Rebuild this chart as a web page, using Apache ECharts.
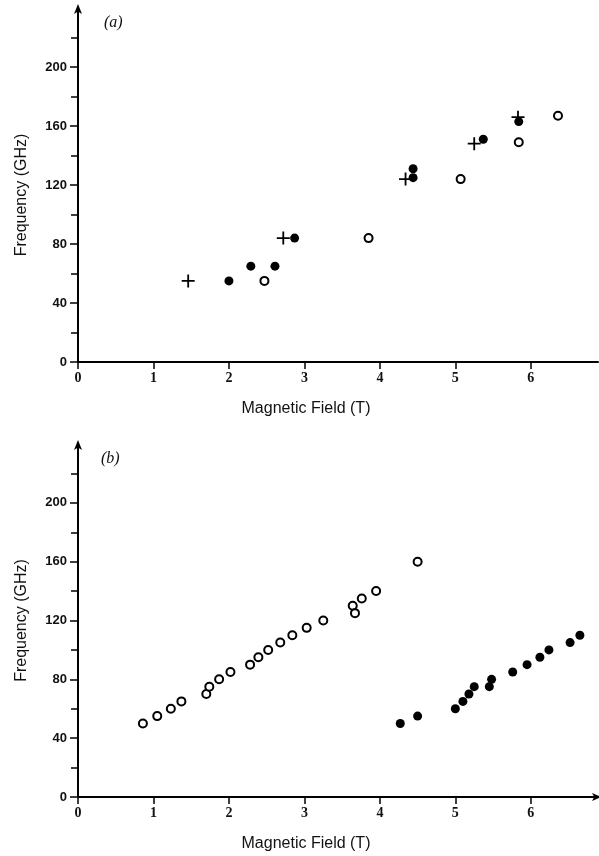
<!DOCTYPE html>
<html>
<head>
<meta charset="utf-8">
<script src="https://cdn.jsdelivr.net/npm/echarts@6/dist/echarts.min.js"></script>
<style>
html,body{margin:0;padding:0;background:#fff;}
#c{width:599px;height:856px;}
</style>
</head>
<body>
<div id="c"></div>
<script>
// ---- data ----
const xTicks = [0, 1, 2, 3, 4, 5, 6];
const yTicks = [0, 40, 80, 120, 160, 200];

// panel (a)
const aPlusX   = [1.46, 2.72, 4.34, 5.25, 5.83];
const aPlusY   = [55, 84, 124, 148, 166];
const aFilledX = [2.0, 2.29, 2.61, 2.87, 4.44, 4.44, 5.37, 5.84];
const aFilledY = [55, 65, 65, 84, 125, 131, 151, 163];
const aOpenX   = [2.47, 3.85, 5.07, 5.84, 6.36];
const aOpenY   = [55, 84, 124, 149, 167];

// panel (b)
const bOpenX   = [0.86, 1.05, 1.23, 1.37, 1.70, 1.74, 1.87, 2.02, 2.28, 2.39, 2.52, 2.68, 2.84, 3.03, 3.25, 3.64, 3.67, 3.76, 3.95, 4.50];
const bOpenY   = [50, 55, 60, 65, 70, 75, 80, 85, 90, 95, 100, 105, 110, 115, 120, 130, 125, 135, 140, 160];
const bFilledX = [4.27, 4.50, 5.00, 5.10, 5.18, 5.25, 5.45, 5.48, 5.76, 5.95, 6.12, 6.24, 6.52, 6.65];
const bFilledY = [50, 55, 60, 65, 70, 75, 75, 80, 85, 90, 95, 100, 105, 110];

const zip = (xs, ys) => xs.map((x, i) => [x, ys[i]]);

const PLUS = 'path://M0.43,0 H0.57 V0.43 H1 V0.57 H0.57 V1 H0.43 V0.57 H0 V0.43 H0.43 Z';
const lineStyle = {color: '#000', width: 2};

function xAxis(idx, arrow) {
  return {
    type: 'value', gridIndex: idx, min: 0, max: 6.89,
    name: 'Magnetic Field (T)', nameLocation: 'middle', nameGap: 39,
    nameTextStyle: {fontFamily: 'Liberation Sans', fontSize: 16, color: '#111', padding: [0, 64, 0, 0]},
    axisLine: {show: true, onZero: false, lineStyle: lineStyle,
      symbol: arrow ? ['none', 'arrow'] : 'none', symbolSize: [6, 9], symbolOffset: [0, 3]},
    axisTick: {show: true, length: 7, inside: false, lineStyle: {color: '#000', width: 1.5}, customValues: xTicks},
    axisLabel: {customValues: xTicks, fontFamily: 'Liberation Serif', fontWeight: 'bold', fontSize: 14, color: '#111', margin: 9},
    splitLine: {show: false}
  };
}
function yAxis(idx, shift) {
  return {
    type: 'value', gridIndex: idx, min: 0, max: 240, interval: 40,
    name: 'Frequency (GHz)', nameLocation: 'middle', nameGap: 48, nameRotate: 90,
    nameTextStyle: {fontFamily: 'Liberation Sans', fontSize: 16, color: '#111', padding: [0, shift, 0, 0]},
    axisLine: {show: true, onZero: false, lineStyle: lineStyle,
      symbol: ['none', 'arrow'], symbolSize: [6, 10], symbolOffset: [0, 4]},
    axisTick: {show: true, length: 8, lineStyle: {color: '#000', width: 1.5}, customValues: yTicks},
    minorTick: {show: true, splitNumber: 2, length: 7, lineStyle: {color: '#000', width: 1.5}},
    axisLabel: {customValues: yTicks, fontFamily: 'Liberation Sans', fontWeight: 'bold', fontSize: 13, color: '#111', margin: 11},
    splitLine: {show: false}, minorSplitLine: {show: false}
  };
}

const filled = {color: '#000', opacity: 1};
const open = {color: '#fff', borderColor: '#000', borderWidth: 2, opacity: 1};

const chart = echarts.init(document.getElementById('c'), null, {renderer: 'canvas'});
chart.setOption({
  animation: false,
  backgroundColor: '#fff',
  grid: [
    {left: 78, width: 520, top: 8, height: 354},
    {left: 78, width: 520, top: 444, height: 353}
  ],
  xAxis: [xAxis(0, false), xAxis(1, true)],
  yAxis: [yAxis(0, 20), yAxis(1, 0)],
  graphic: [
    {type: 'text', left: 104, top: 15, style: {text: '(a)', font: 'italic 16px "Liberation Serif"', fill: '#111'}},
    {type: 'text', left: 101, top: 451, style: {text: '(b)', font: 'italic 16px "Liberation Serif"', fill: '#111'}}
  ],
  series: [
    {type: 'scatter', xAxisIndex: 0, yAxisIndex: 0, symbol: PLUS, symbolSize: 13, itemStyle: filled, data: zip(aPlusX, aPlusY)},
    {type: 'scatter', xAxisIndex: 0, yAxisIndex: 0, symbol: 'circle', symbolSize: 9, itemStyle: filled, data: zip(aFilledX, aFilledY)},
    {type: 'scatter', xAxisIndex: 0, yAxisIndex: 0, symbol: 'circle', symbolSize: 8, itemStyle: open, data: zip(aOpenX, aOpenY)},
    {type: 'scatter', xAxisIndex: 1, yAxisIndex: 1, symbol: 'circle', symbolSize: 8, itemStyle: open, data: zip(bOpenX, bOpenY)},
    {type: 'scatter', xAxisIndex: 1, yAxisIndex: 1, symbol: 'circle', symbolSize: 9, itemStyle: filled, data: zip(bFilledX, bFilledY)}
  ]
});
</script>
</body>
</html>
